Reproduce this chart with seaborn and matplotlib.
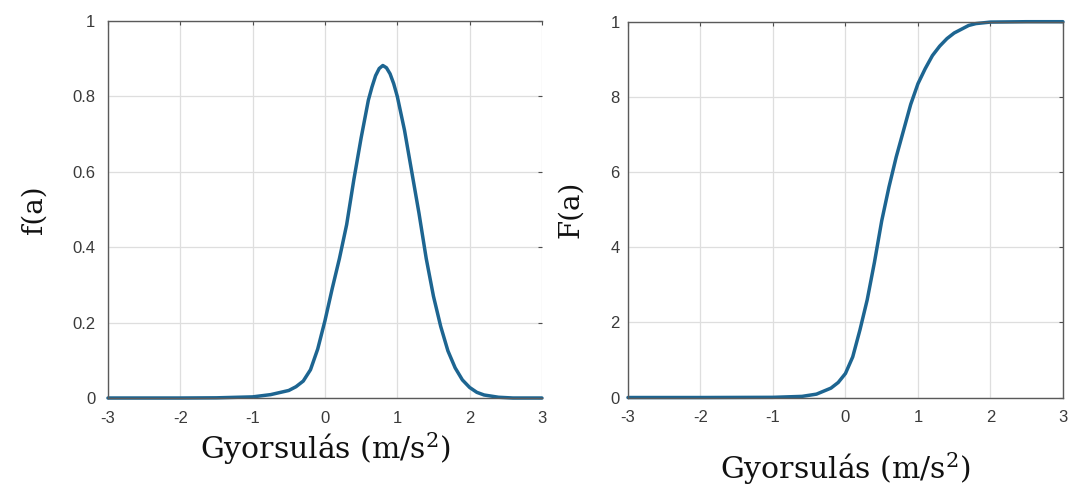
import matplotlib
matplotlib.use("Agg")
import matplotlib.pyplot as plt
import seaborn as sns
import pandas as pd

# ---- data ----
pdf_x = [-3.0, -2.0, -1.5, -1.0, -0.75, -0.5, -0.4, -0.3, -0.2, -0.1, 0.0, 0.1, 0.2, 0.3,
         0.4, 0.5, 0.6, 0.65, 0.7, 0.75, 0.8, 0.85, 0.9, 0.95, 1.0, 1.1, 1.2, 1.3, 1.4, 1.5, 1.6, 1.7, 1.8,
         1.9, 2.0, 2.1, 2.2, 2.4, 2.6, 3.0]
pdf_y = [0.0, 0.0, 0.0005, 0.003, 0.009, 0.02, 0.03, 0.045, 0.075, 0.13, 0.205, 0.29, 0.37, 0.46,
         0.58, 0.69, 0.79, 0.825, 0.855, 0.874, 0.882, 0.876, 0.86, 0.834, 0.80, 0.71, 0.60, 0.49, 0.37,
         0.27, 0.19, 0.125, 0.08, 0.048, 0.028, 0.015, 0.008, 0.002, 0.0, 0.0]

cdf_x = [-3.0, -2.0, -1.0, -0.6, -0.4, -0.2, -0.1, 0.0, 0.1, 0.2, 0.3, 0.4, 0.5, 0.6, 0.7,
         0.8, 0.9, 1.0, 1.1, 1.2, 1.3, 1.4, 1.5, 1.6, 1.7, 1.8, 2.0, 2.5, 3.0]
cdf_y = [0.0, 0.0, 0.0005, 0.003, 0.009, 0.025, 0.04, 0.064, 0.108, 0.18, 0.26, 0.36, 0.47, 0.56, 0.64,
         0.71, 0.78, 0.835, 0.875, 0.91, 0.935, 0.955, 0.97, 0.98, 0.99, 0.995, 0.999, 1.0, 1.0]

x_ticks = [-3, -2, -1, 0, 1, 2, 3]
x_tick_labels = ["-3", "-2", "-1", "0", "1", "2", "3"]
y_ticks = [0, 0.2, 0.4, 0.6, 0.8, 1.0]
left_y_labels = ["0", "0.2", "0.4", "0.6", "0.8", "1"]
right_y_labels = ["0", "2", "4", "6", "8", "1"]

x_label = "Gyorsulás (m/s$^{2}$)"
left_y_title = "f(a)"
right_y_title = "F(a)"

line_color = "#1d6591"
tick_color = "#4d4d4d"

sns.set_style("white")
plt.rcParams["font.family"] = ["Liberation Sans", "DejaVu Sans"]
plt.rcParams["mathtext.fontset"] = "custom"
plt.rcParams["mathtext.rm"] = "DejaVu Serif"
plt.rcParams["mathtext.default"] = "regular"

fig = plt.figure(figsize=(10.70, 4.91), dpi=100)
ax1 = fig.add_axes([0.1009, 0.1894, 0.4056, 0.7678])
ax2 = fig.add_axes([0.5869, 0.1904, 0.4065, 0.7654])

df1 = pd.DataFrame({"a": pdf_x, "f": pdf_y})
df2 = pd.DataFrame({"a": cdf_x, "F": cdf_y})
sns.lineplot(data=df1, x="a", y="f", ax=ax1, color=line_color, lw=2.5, clip_on=False)
sns.lineplot(data=df2, x="a", y="F", ax=ax2, color=line_color, lw=2.5, clip_on=False)

for ax, ylabels, ytitle in [(ax1, left_y_labels, left_y_title), (ax2, right_y_labels, right_y_title)]:
    ax.set_xlim(-3, 3)
    ax.set_ylim(0, 1)
    ax.set_xticks(x_ticks)
    ax.set_xticklabels(x_tick_labels)
    ax.set_yticks(y_ticks)
    ax.set_yticklabels(ylabels)
    ax.grid(True, color="#dedede", lw=0.9)
    ax.set_axisbelow(True)
    ax.tick_params(axis="both", which="both", direction="in", length=3, width=0.8,
                   colors=tick_color, labelsize=12, labelcolor="#3a3a3a",
                   top=True, right=True)
    ax.tick_params(axis="x", pad=9)
    for s in ax.spines.values():
        s.set_color("#5a5a5a")
        s.set_linewidth(1.0)
    ax.set_xlabel(x_label, fontsize=21.5, family="DejaVu Serif", color="#111111")
    ax.set_ylabel(ytitle, fontsize=20, family="DejaVu Serif", color="#111111")

ax1.spines["right"].set_visible(False)
ax1.tick_params(axis="y", pad=9)
ax2.tick_params(axis="y", pad=6)
ax1.xaxis.set_label_coords(0.5, -0.085)
ax2.xaxis.set_label_coords(0.5, -0.14)
ax1.yaxis.set_label_coords(-0.14, 0.5)
ax2.yaxis.set_label_coords(-0.1, 0.5)

fig.savefig("out.png", dpi=100, facecolor="white")
